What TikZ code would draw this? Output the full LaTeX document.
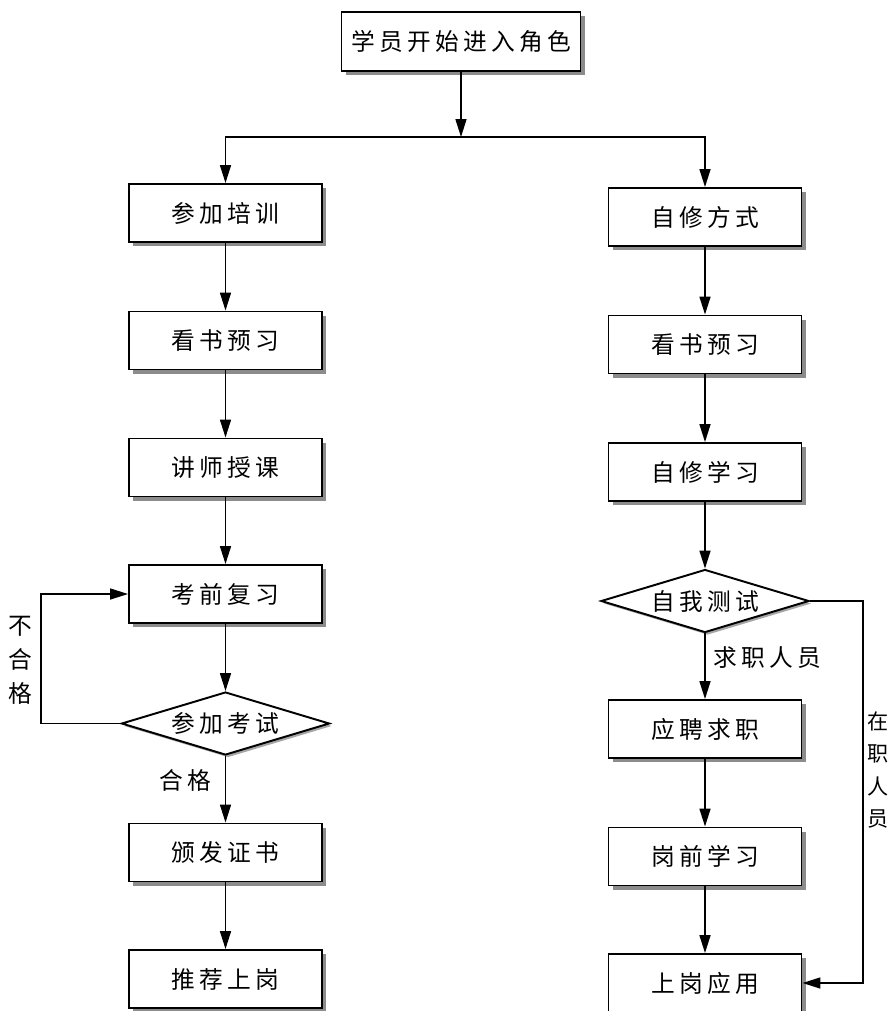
\documentclass[tikz,border=0pt]{standalone}
\usepackage{fontspec}
\setmainfont{Noto Sans CJK SC}[LetterSpace=18]
\usetikzlibrary{arrows.meta,shapes.geometric,shadows}
\tikzset{
  >={Triangle[length=3.6mm,width=2.2mm]},
  every picture/.style={line width=0.9pt},
  stepbox/.style={draw,line width=1.1pt,fill=white,minimum width=3.86cm,minimum height=1.16cm,
    font=\fontsize{13.5}{16}\selectfont,
    drop shadow={shadow xshift=0.08cm,shadow yshift=-0.08cm,fill=black!45,opacity=1}},
  testbox/.style={draw,line width=1.1pt,fill=white,diamond,minimum width=4.16cm,minimum height=1.26cm,
    inner sep=0pt,
    drop shadow={shadow xshift=0.05cm,shadow yshift=-0.05cm,fill=black!35,opacity=1}},
  note/.style={font=\fontsize{13.5}{16}\selectfont},
}
\begin{document}
\begin{tikzpicture}
      \useasboundingbox (0,0) rectangle (17.82,-20.22);
      % top
      \node[stepbox,minimum width=4.78cm,minimum height=1.18cm] (start) at (9.22,-0.83) {学员开始进入角色};
      \coordinate (split) at (9.22,-2.74);
      % left column: training
      \node[stepbox] (train) at (4.51,-4.26) {参加培训};
      \node[stepbox] (read1) at (4.51,-6.81) {看书预习};
      \node[stepbox] (lecture) at (4.51,-9.35) {讲师授课};
      \node[stepbox] (review) at (4.51,-11.88) {考前复习};
      \node[testbox,label={[note]center:参加考试}] (exam) at (4.51,-14.47) {};
      \node[stepbox] (cert) at (4.51,-17.05) {颁发证书};
      \node[stepbox] (recommend) at (4.51,-19.58) {推荐上岗};
      % right column: self study
      \node[stepbox] (self) at (14.1,-4.34) {自修方式};
      \node[stepbox] (read2) at (14.1,-6.89) {看书预习};
      \node[stepbox] (study) at (14.1,-9.44) {自修学习};
      \node[testbox,label={[note]center:自我测试}] (selftest) at (14.1,-12.02) {};
      \node[stepbox] (apply) at (14.1,-14.58) {应聘求职};
      \node[stepbox] (prework) at (14.1,-17.13) {岗前学习};
      \node[stepbox] (onjob) at (14.1,-19.66) {上岗应用};
      % labels
      \node[note] (pass) at (3.7,-15.6) {合格};
      \node[note,align=center,font=\fontsize{13.5}{19.3}\selectfont] (fail) at (0.4,-13.2) {不\\合\\格};
      \node[note] (seeker) at (15.34,-13.16) {求职人员};
      \node[align=center,inner sep=0pt,font=\fontsize{12}{18.3}\selectfont] (staff) at (17.56,-15.4) {在\\职\\人\\员};
      \coordinate (failc) at (0.82,-14.47);
      \coordinate (staffc) at (17.26,-12.02);
      % connectors
      \draw [->] (start) -- (split);
      \draw [->] (split) -| (train);
      \draw [->] (split) -| (self);
      \draw [->] (train) -- (read1);
      \draw [->] (read1) -- (lecture);
      \draw [->] (lecture) -- (review);
      \draw [->] (review) -- (exam);
      \draw [->] (exam) -- (cert);
      \draw [->] (cert) -- (recommend);
      \draw [->] (exam.west) -- (failc) |- (review);
      \draw [->] (self) -- (read2);
      \draw [->] (read2) -- (study);
      \draw [->] (study) -- (selftest);
      \draw [->] (selftest) -- (apply);
      \draw [->] (apply) -- (prework);
      \draw [->] (prework) -- (onjob);
      \draw [->] (selftest.east) -- (staffc) |- (onjob);
\end{tikzpicture}
\end{document}
